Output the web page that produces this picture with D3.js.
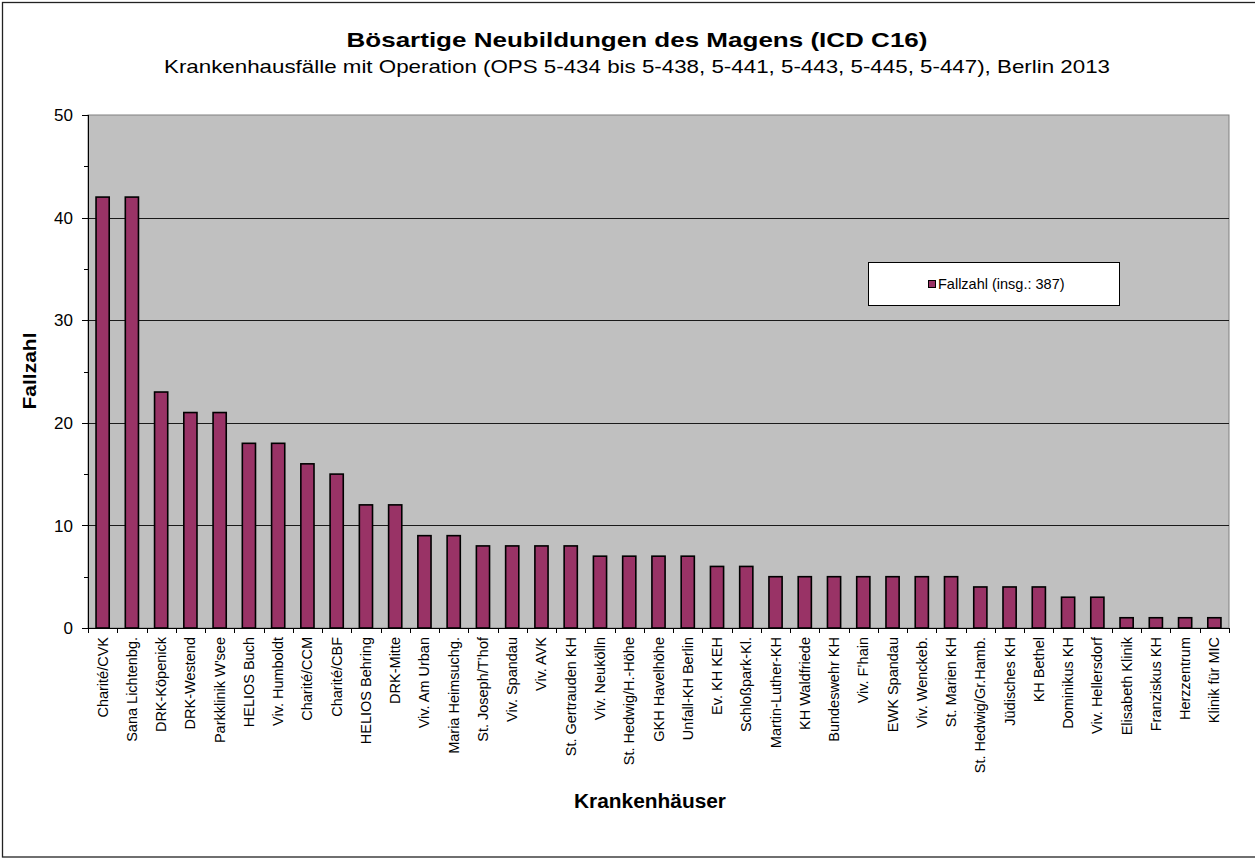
<!DOCTYPE html>
<html>
<head>
<meta charset="utf-8">
<script src="https://cdn.jsdelivr.net/npm/d3@7"></script>
<style>
  html, body { margin: 0; padding: 0; background: #fff; }
  svg { display: block; font-family: "Liberation Sans", Arial, sans-serif; }
</style>
</head>
<body>
<div id="chart"></div>
<script>
/* Bösartige Neubildungen des Magens – Fallzahlen je Krankenhaus, Berlin 2013 */
(function () {

  /* ── Data ─────────────────────────────────────────────────────────────── */
  const hospitals = [
    'Charité/CVK', 'Sana Lichtenbg.', 'DRK-Köpenick', 'DRK-Westend', 'Parkklinik W\u2019see',
    'HELIOS Buch', 'Viv. Humboldt', 'Charité/CCM', 'Charité/CBF', 'HELIOS Behring',
    'DRK-Mitte', 'Viv. Am Urban', 'Maria Heimsuchg.', 'St. Joseph/T\u2019hof', 'Viv. Spandau',
    'Viv. AVK', 'St. Gertrauden KH', 'Viv. Neukölln', 'St. Hedwig/H.-Höhe', 'GKH Havelhöhe',
    'Unfall-KH Berlin', 'Ev. KH KEH', 'Schloßpark-Kl.', 'Martin-Luther-KH', 'KH Waldfriede',
    'Bundeswehr KH', 'Viv. F\u2019hain', 'EWK Spandau', 'Viv. Wenckeb.', 'St. Marien KH',
    'St. Hedwig/Gr.Hamb.', 'Jüdisches KH', 'KH Bethel', 'Dominikus KH', 'Viv. Hellersdorf',
    'Elisabeth Klinik', 'Franziskus KH', 'Herzzentrum', 'Klinik für MIC'
  ];
  const cases = [
    42, 42, 23, 21, 21, 18, 18, 16, 15, 12,
    12, 9, 9, 8, 8, 8, 8, 7, 7, 7,
    7, 6, 6, 5, 5, 5, 5, 5, 5, 5,
    4, 4, 4, 3, 3, 1, 1, 1, 1
  ];
  const yTicks = [0, 10, 20, 30, 40, 50];
  const yMinor = [5, 15, 25, 35, 45];
  const seriesName = 'Fallzahl (insg.: 387)';

  const rows = hospitals.map((h, i) => ({ name: h, value: cases[i] }));

  /* ── Layout ───────────────────────────────────────────────────────────── */
  const TW = 1255, TH = 859;
  const P = { left: 88, right: 1229, top: 115, bottom: 628 };
  const BAR = '#993366';
  const PLOT_BG = '#c0c0c0';

  const svg = d3.select('#chart').append('svg')
    .attr('width', TW).attr('height', TH);

  // Outer frame
  svg.append('rect')
    .attr('x', 2.5).attr('y', 2.5)
    .attr('width', TW + 10).attr('height', TH - 4.5)
    .attr('fill', '#fff').attr('stroke', '#222').attr('stroke-width', 1.3);

  /* ── Scales ───────────────────────────────────────────────────────────── */
  const x = d3.scaleBand()
    .domain(hospitals)
    .range([P.left, P.right])
    .paddingInner(0.55)
    .paddingOuter(0.275);
  const step = x.step();

  const y = d3.scaleLinear().domain([0, 50]).range([P.bottom, P.top]);

  /* ── Plot area ────────────────────────────────────────────────────────── */
  svg.append('rect')
    .attr('x', P.left).attr('y', P.top)
    .attr('width', P.right - P.left).attr('height', P.bottom - P.top)
    .attr('fill', PLOT_BG).attr('stroke', '#808080').attr('stroke-width', 1);

  // Gridlines
  svg.append('g').selectAll('line')
    .data(yTicks.filter(t => t > 0 && t < 50))
    .join('line')
    .attr('x1', P.left).attr('x2', P.right)
    .attr('y1', d => Math.round(y(d)) + 0.5).attr('y2', d => Math.round(y(d)) + 0.5)
    .attr('stroke', '#1a1a1a').attr('stroke-width', 1);

  // Bars
  svg.append('g').selectAll('rect')
    .data(rows)
    .join('rect')
    .attr('x', d => x(d.name))
    .attr('y', d => y(d.value))
    .attr('width', x.bandwidth())
    .attr('height', d => y(0) - y(d.value))
    .attr('fill', BAR)
    .attr('stroke', '#000').attr('stroke-width', 1.6);

  /* ── Y axis ───────────────────────────────────────────────────────────── */
  const yAxis = svg.append('g');
  yAxis.append('line')
    .attr('x1', P.left + 0.5).attr('x2', P.left + 0.5)
    .attr('y1', P.top).attr('y2', P.bottom)
    .attr('stroke', '#000');
  yAxis.selectAll('.major')
    .data(yTicks).join('line').attr('class', 'major')
    .attr('x1', P.left - 6).attr('x2', P.left)
    .attr('y1', d => Math.round(y(d)) + 0.5).attr('y2', d => Math.round(y(d)) + 0.5)
    .attr('stroke', '#000');
  yAxis.selectAll('.minor')
    .data(yMinor).join('line').attr('class', 'minor')
    .attr('x1', P.left - 4).attr('x2', P.left)
    .attr('y1', d => Math.round(y(d)) + 0.5).attr('y2', d => Math.round(y(d)) + 0.5)
    .attr('stroke', '#000');
  yAxis.selectAll('text')
    .data(yTicks).join('text')
    .attr('x', P.left - 15).attr('y', d => y(d))
    .attr('dy', '0.36em')
    .attr('text-anchor', 'end')
    .attr('font-size', 17)
    .attr('fill', '#000')
    .text(d => d);

  /* ── X axis ───────────────────────────────────────────────────────────── */
  const xAxis = svg.append('g');
  xAxis.append('line')
    .attr('x1', P.left - 6).attr('x2', P.right)
    .attr('y1', P.bottom + 0.5).attr('y2', P.bottom + 0.5)
    .attr('stroke', '#000');
  xAxis.selectAll('.tick')
    .data(d3.range(hospitals.length + 1)).join('line').attr('class', 'tick')
    .attr('x1', i => Math.round(P.left + i * step) + 0.5)
    .attr('x2', i => Math.round(P.left + i * step) + 0.5)
    .attr('y1', P.bottom).attr('y2', P.bottom + 5)
    .attr('stroke', '#000');
  xAxis.selectAll('text')
    .data(hospitals).join('text')
    .attr('transform', d => `translate(${x(d) + x.bandwidth() / 2 + 5},${P.bottom + 9}) rotate(-90)`)
    .attr('text-anchor', 'end')
    .attr('font-size', 14.5)
    .attr('fill', '#000')
    .text(d => d);

  /* ── Titles ───────────────────────────────────────────────────────────── */
  svg.append('text')
    .attr('x', 637).attr('y', 47)
    .attr('text-anchor', 'middle')
    .attr('font-size', 21).attr('font-weight', 'bold')
    .attr('textLength', 581).attr('lengthAdjust', 'spacingAndGlyphs')
    .text('Bösartige Neubildungen des Magens (ICD C16)');
  svg.append('text')
    .attr('x', 637).attr('y', 73)
    .attr('text-anchor', 'middle')
    .attr('font-size', 18.5)
    .attr('textLength', 946).attr('lengthAdjust', 'spacingAndGlyphs')
    .text('Krankenhausfälle mit Operation (OPS 5-434 bis 5-438, 5-441, 5-443, 5-445, 5-447), Berlin 2013');
  svg.append('text')
    .attr('transform', 'translate(36,371) rotate(-90)')
    .attr('text-anchor', 'middle')
    .attr('font-size', 18.5).attr('font-weight', 'bold')
    .attr('textLength', 77).attr('lengthAdjust', 'spacingAndGlyphs')
    .text('Fallzahl');
  svg.append('text')
    .attr('x', 650).attr('y', 808)
    .attr('text-anchor', 'middle')
    .attr('font-size', 19.5).attr('font-weight', 'bold')
    .attr('textLength', 152).attr('lengthAdjust', 'spacingAndGlyphs')
    .text('Krankenhäuser');

  /* ── Legend ───────────────────────────────────────────────────────────── */
  const lg = svg.append('g');
  lg.append('rect')
    .attr('x', 868.5).attr('y', 262.5).attr('width', 251).attr('height', 43)
    .attr('fill', '#fff').attr('stroke', '#000');
  lg.append('rect')
    .attr('x', 928.5).attr('y', 280.5).attr('width', 7).attr('height', 7)
    .attr('fill', BAR).attr('stroke', '#000');
  lg.append('text')
    .attr('x', 938).attr('y', 289)
    .attr('font-size', 14.5).attr('fill', '#000')
    .text(seriesName);

})();
</script>
</body>
</html>
